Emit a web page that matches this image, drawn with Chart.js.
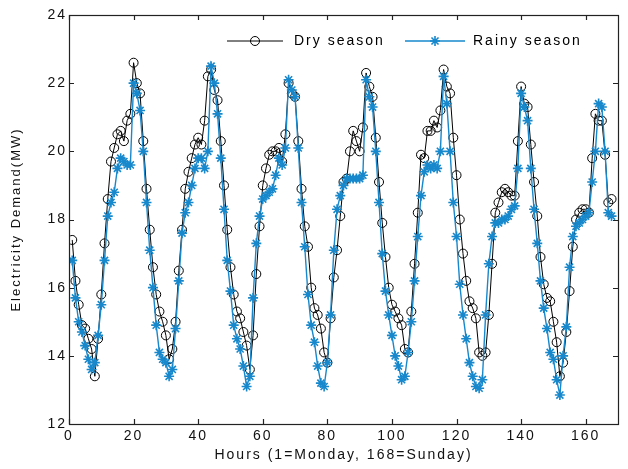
<!DOCTYPE html>
<html><head><meta charset="utf-8">
<script src="https://cdn.jsdelivr.net/npm/chart.js@4/dist/chart.umd.min.js"></script>
<style>html,body{margin:0;padding:0;background:#fff}#wrap{width:628px;height:469px;position:relative}</style>
</head><body><div id="wrap"><canvas id="c" width="628" height="469"></canvas></div>
<script>
const seriesNames = ['Dry season', 'Rainy season'];
const hours = Array.from({length: 168}, (_, i) => i + 1);
const dryDemand = [
17.4,16.2,15.5,14.9,14.8,14.5,14.2,13.4,14.5,15.8,17.3,18.6,19.7,20.1,20.5,20.6,20.3,20.9,21.1,22.6,22.0,21.7,20.3,18.9,
17.7,16.6,15.8,15.3,15.0,14.6,13.9,14.2,15.0,16.5,17.7,18.9,19.4,19.8,20.2,20.4,20.2,20.9,22.2,22.4,21.8,21.5,20.3,19.0,
17.7,16.6,15.8,15.3,15.1,14.7,14.3,13.6,14.6,16.4,17.8,19.0,19.5,19.9,20.0,20.0,20.1,19.7,20.5,22.0,21.7,21.6,20.3,18.9,
17.8,17.2,16.0,15.4,15.2,14.8,14.1,13.8,15.1,16.3,17.1,18.1,19.1,19.2,20.0,20.6,20.3,20.0,20.7,22.3,21.9,21.6,20.4,19.1,
17.9,16.9,16.0,15.5,15.3,15.1,14.9,14.2,14.1,15.3,16.7,18.2,19.9,19.8,20.6,20.6,20.9,20.7,21.2,22.4,21.9,21.7,20.4,19.3,
18.0,17.0,16.2,15.6,15.4,15.1,14.1,14.0,14.1,15.2,16.7,18.2,18.5,18.8,18.9,18.8,18.7,18.7,20.3,21.9,21.4,21.3,20.2,19.1,
18.1,16.9,16.1,15.7,15.6,15.0,14.4,13.4,13.8,14.7,15.9,17.2,18.0,18.2,18.3,18.3,18.2,19.8,21.1,20.9,20.9,19.9,18.5,18.6
];
const rainyDemand = [
16.8,15.7,15.0,14.7,14.3,13.9,13.6,13.8,14.6,15.5,16.8,18.1,18.5,18.8,19.5,19.8,19.7,19.6,19.6,22.0,21.7,21.2,20.0,18.5,
17.1,16.0,14.9,14.1,13.9,13.8,13.4,13.6,14.8,16.2,17.6,18.2,18.5,19.0,19.5,19.8,19.8,19.5,20.0,22.5,22.0,21.1,19.8,18.3,
16.8,15.9,14.9,14.5,14.2,13.7,13.1,13.4,15.7,17.3,18.1,18.6,18.7,18.8,18.9,19.3,19.8,19.6,20.1,22.1,21.8,21.6,20.1,18.5,
17.2,15.8,14.9,14.4,13.7,13.2,13.1,13.8,15.2,17.1,18.3,18.7,19.0,19.2,19.2,19.2,19.2,19.2,19.3,22.1,21.6,21.3,20.0,18.5,
17.0,15.9,15.2,14.6,14.0,13.7,13.3,13.4,14.1,15.0,16.2,17.5,18.7,19.4,19.6,19.5,19.6,19.5,20.0,22.2,21.4,20.0,18.5,17.5,
16.1,15.2,14.5,13.8,13.4,13.1,13.05,13.3,15.2,16.7,17.5,17.9,17.9,18.0,18.0,18.1,18.3,18.4,19.5,21.7,21.3,20.9,19.5,18.3,
17.3,16.2,15.4,14.8,14.1,13.9,13.3,12.85,14.0,14.85,16.6,17.5,17.8,17.9,18.0,18.1,18.2,19.1,20.0,21.4,21.3,20.0,18.2,18.1
];
const xTicks = [0, 20, 40, 60, 80, 100, 120, 140, 160];
const yTicks = [12, 14, 16, 18, 20, 22, 24];
const xTitle = 'Hours (1=Monday, 168=Sunday)';
const yTitle = 'Electricity Demand(MW)';

const BLUE = '#1788cc';
const FONT = '"Liberation Sans", Arial, sans-serif';

const framePlugin = {
  id: 'frame',
  beforeUpdate(chart) { chart.ctx.letterSpacing = '2px'; },
  beforeDraw(chart) { chart.ctx.letterSpacing = '2px'; },
  afterDraw(chart) {
    const {ctx, chartArea: a, scales: {x, y}} = chart;
    ctx.save();
    ctx.strokeStyle = '#222';
    ctx.lineWidth = 1.2;
    ctx.strokeRect(a.left + 0.5, a.top + 0.5, a.right - a.left, a.bottom - a.top);
    ctx.beginPath();
    xTicks.forEach(v => {
      const px = Math.round(x.getPixelForValue(v)) + 0.5;
      ctx.moveTo(px, a.bottom); ctx.lineTo(px, a.bottom - 5);
      ctx.moveTo(px, a.top); ctx.lineTo(px, a.top + 5);
    });
    yTicks.forEach(v => {
      const py = Math.round(y.getPixelForValue(v)) + 0.5;
      ctx.moveTo(a.left, py); ctx.lineTo(a.left + 5, py);
      ctx.moveTo(a.right, py); ctx.lineTo(a.right - 5, py);
    });
    ctx.stroke();
    // legend inside the axes
    const ly = 41;
    ctx.lineWidth = 1;
    ctx.strokeStyle = '#000';
    ctx.fillStyle = 'rgba(0,0,0,0)';
    ctx.beginPath(); ctx.moveTo(227, ly); ctx.lineTo(283, ly); ctx.stroke();
    Chart.helpers.drawPoint(ctx, {pointStyle: 'circle', radius: 4.5, rotation: 0, borderWidth: 1}, 255, ly);
    ctx.strokeStyle = BLUE; ctx.fillStyle = BLUE; ctx.lineWidth = 1.4;
    ctx.beginPath(); ctx.moveTo(405, ly); ctx.lineTo(465, ly); ctx.stroke();
    ctx.lineWidth = 1.6;
    Chart.helpers.drawPoint(ctx, {pointStyle: 'star', radius: 5, rotation: 0, borderWidth: 1.6}, 435, ly);
    ctx.fillStyle = '#000';
    ctx.font = '14px ' + FONT;
    ctx.letterSpacing = '2px';
    ctx.textBaseline = 'middle';
    ctx.textAlign = 'left';
    ctx.fillText(seriesNames[0], 294, ly);
    ctx.fillText(seriesNames[1], 473, ly);
    ctx.restore();
  }
};

new Chart(document.getElementById('c'), {
  type: 'line',
  data: {
    datasets: [
      {
        label: seriesNames[0],
        data: hours.map((h, i) => ({x: h, y: dryDemand[i]})),
        borderColor: '#000', borderWidth: 1,
        pointStyle: 'circle', pointRadius: 4.5,
        pointBorderColor: '#000', pointBackgroundColor: 'rgba(255,255,255,0)', pointBorderWidth: 1,
        tension: 0, order: 2
      },
      {
        label: seriesNames[1],
        data: hours.map((h, i) => ({x: h, y: rainyDemand[i]})),
        borderColor: BLUE, borderWidth: 1.4,
        pointStyle: 'star', pointRadius: 5,
        pointBorderColor: BLUE, pointBackgroundColor: BLUE, pointBorderWidth: 1.6,
        tension: 0, order: 1
      }
    ]
  },
  options: {
    responsive: false,
    animation: false,
    events: [],
    layout: {padding: {top: 15, right: 10, left: 0, bottom: 0}},
    plugins: {legend: {display: false}, tooltip: {enabled: false}},
    scales: {
      x: {
        type: 'linear', min: 0, max: 170,
        afterBuildTicks(s) { s.ticks = xTicks.map(v => ({value: v})); },
        afterFit(s) { s.height = 45; },
        grid: {display: false, drawTicks: false, tickLength: 0},
        border: {display: false},
        ticks: {color: '#111', font: {family: FONT, size: 14}, padding: 4, maxRotation: 0, autoSkip: false},
        title: {display: true, text: xTitle, color: '#111', font: {family: FONT, size: 14}, padding: {top: 0, bottom: 5}}
      },
      y: {
        type: 'linear', min: 12, max: 24,
        afterBuildTicks(s) { s.ticks = yTicks.map(v => ({value: v})); },
        afterFit(s) { s.width = 69; },
        grid: {display: false, drawTicks: false, tickLength: 0},
        border: {display: false},
        ticks: {color: '#111', font: {family: FONT, size: 14}, padding: 2},
        title: {display: true, text: yTitle, color: '#111', font: {family: FONT, size: 13}, padding: {top: 9, bottom: 0}}
      }
    }
  },
  plugins: [framePlugin]
});
</script>
</body></html>
